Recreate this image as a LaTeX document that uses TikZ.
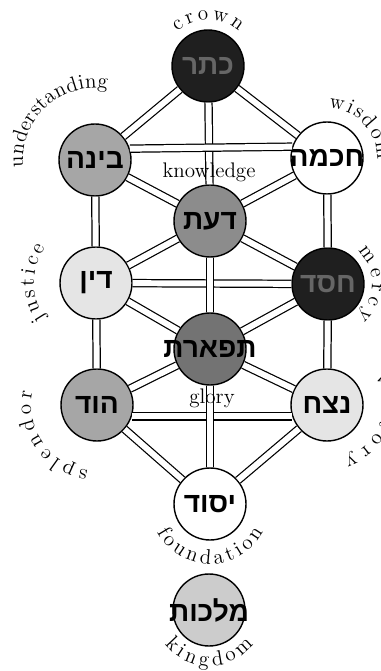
\documentclass[tikz,border=0pt]{standalone}
\usepackage{fontspec}
\newfontfamily\hebfont[Script=Hebrew]{Liberation Sans}
\TeXXeTstate=1
\usetikzlibrary{decorations.text}
\newcommand\glossfont{\fontsize{12}{14}\selectfont}
\newcommand\heb[1]{\makebox[0pt][c]{\beginR #1\endR}}

\begin{document}
\begin{tikzpicture}[x=0.02cm, y=0.02cm,
  sefira/.style={draw, circle, line width=0.8pt, minimum size=1.44cm, inner sep=0pt,
    font=\hebfont\bfseries\fontsize{16}{18}\selectfont},
  channel/.style={double, double distance=3.4pt, line width=0.7pt},
  gloss/.style={font=\glossfont},
  arcgloss/.style={decorate, decoration={text along path, text align={fit to path},
    text={|\glossfont|#1}}}]
\useasboundingbox (0,0) rectangle (381,-671);

\node[sefira, fill=black!88, text=black!60] (keter) at (208,-66) {\heb{כתר}};
\node[sefira, fill=black!35] (binah) at (95,-160) {\heb{בינה}};
\node[sefira, fill=white] (chokhmah) at (327,-158) {\heb{חכמה}};
\node[sefira, fill=black!45] (daat) at (210,-221) {\heb{דעת}};
\node[sefira, fill=black!10] (din) at (96,-283) {\heb{דין}};
\node[sefira, fill=black!88, text=black!60] (chesed) at (328,-284) {\heb{חסד}};
\node[sefira, fill=black!55] (tiferet) at (210,-349) {\heb{תפארת}};
\node[sefira, fill=black!35] (hod) at (97,-405) {\heb{הוד}};
\node[sefira, fill=black!10] (netzach) at (327,-405) {\heb{נצח}};
\node[sefira, fill=white] (yesod) at (210,-504) {\heb{יסוד}};
\node[sefira, fill=black!20] (malkhut) at (209,-610) {\heb{מלכות}};

\draw[channel] (keter) -- (binah);
\draw[channel] (keter) -- (chokhmah);
\draw[channel] (keter) -- (daat);
\draw[channel] (binah.18) -- (chokhmah.162);
\draw[channel] (binah) -- (daat);
\draw[channel] (chokhmah) -- (daat);
\draw[channel] (binah) -- (din);
\draw[channel] (chokhmah) -- (chesed);
\draw[channel] (din) -- (daat);
\draw[channel] (chesed) -- (daat);
\draw[channel] (din) -- (chesed);
\draw[channel] (daat) -- (tiferet);
\draw[channel] (din) -- (tiferet);
\draw[channel] (chesed) -- (tiferet);
\draw[channel] (din) -- (hod);
\draw[channel] (chesed) -- (netzach);
\draw[channel] (hod) -- (tiferet);
\draw[channel] (netzach) -- (tiferet);
\draw[channel] (hod.-18) -- (netzach.-162);
\draw[channel] (tiferet) -- (yesod);
\draw[channel] (hod) -- (yesod);
\draw[channel] (netzach) -- (yesod);

\node[gloss] (knowledge) at (209,-172) {knowledge};
\node[gloss] (glory) at (212,-398) {glory};

% names round the circles
\path[arcgloss=crown] (keter.center) ++(132:46) arc[start angle=132, end angle=48, radius=46];
\path[arcgloss=understanding] (binah.center) ++(186:72) arc[start angle=186, end angle=80, radius=72];
\path[arcgloss=wisdom] (chokhmah.center) ++(88:50) arc[start angle=88, end angle=-2, radius=50];
\path[arcgloss=justice] (din.center) ++(215:62) arc[start angle=215, end angle=145, radius=62];
\path[arcgloss=mercy] (chesed.center) ++(48:44) arc[start angle=48, end angle=-48, radius=44];
\path[arcgloss=splendor] (hod.center) ++(262:66) arc[start angle=262, end angle=168, radius=66];
\path[arcgloss=victory] (netzach.center) ++(30:56) arc[start angle=30, end angle=-72, radius=56];
\path[arcgloss=foundation] (yesod.center) ++(208:60) arc[start angle=208, end angle=332, radius=60];
\path[arcgloss=kingdom] (malkhut.center) ++(218:56) arc[start angle=218, end angle=322, radius=56];
\end{tikzpicture}
\end{document}
